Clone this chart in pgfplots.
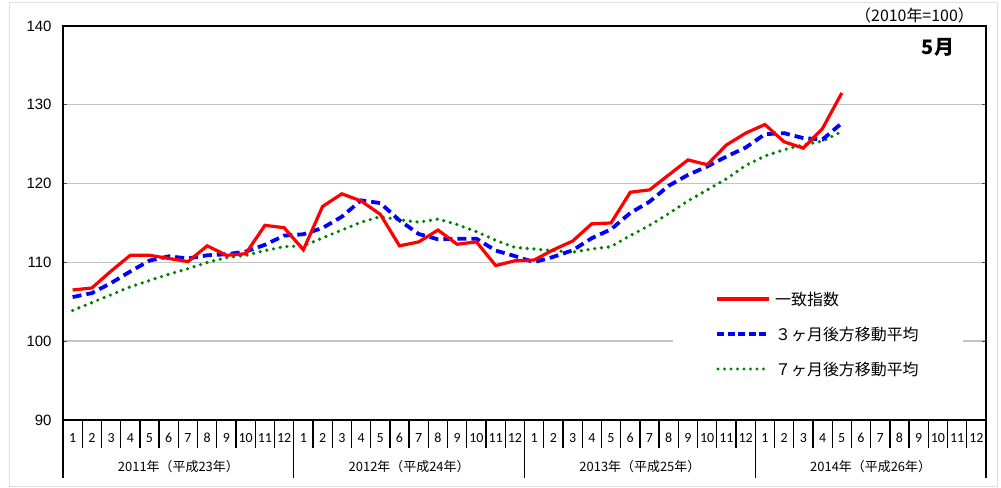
\documentclass[border=0pt]{standalone}
\usepackage{fontspec}
\usepackage{pgfplots}
\usepackage{pgfplotstable}
\pgfplotsset{compat=1.18}
\setmainfont{Carlito}
\newfontfamily\jp{Noto Sans CJK JP}
\newfontfamily\arial{Liberation Sans}
\definecolor{grn}{RGB}{0,128,0}
\definecolor{gridv}{RGB}{215,215,215}
\definecolor{gridh}{RGB}{195,195,195}

\pgfplotstableread{
m idx ma3 ma7
1 106.5 105.6 103.9
2 106.75 106.1 104.9
3 108.9 107.38 105.9
4 110.9 108.85 106.9
5 110.9 110.23 107.7
6 110.5 110.77 108.5
7 110.1 110.5 109.2
8 112.1 110.9 110.0
9 110.9 111.03 110.6
10 111.1 111.37 110.9
11 114.7 112.23 111.5
12 114.4 113.4 112.0
13 111.6 113.57 112.1
14 117.1 114.37 113.1
15 118.7 115.8 114.1
16 117.8 117.87 115.1
17 116.1 117.53 115.8
18 112.1 115.33 115.4
19 112.6 113.6 115.1
20 114.1 112.93 115.5
21 112.3 113.0 114.8
22 112.6 113.0 113.9
23 109.6 111.5 112.8
24 110.2 110.8 111.9
25 110.3 110.03 111.7
26 111.6 110.7 111.5
27 112.7 111.53 111.3
28 114.9 113.07 111.7
29 115.0 114.2 112.0
30 118.9 116.27 113.4
31 119.2 117.7 114.7
32 121.1 119.73 116.2
33 123.0 121.1 117.8
34 122.4 122.17 119.2
35 124.9 123.43 120.6
36 126.4 124.57 122.3
37 127.5 126.27 123.5
38 125.3 126.4 124.3
39 124.5 125.77 124.9
40 127.0 125.6 125.4
41 131.5 127.67 126.6
}\data

\begin{document}
\begin{tikzpicture}[x=1bp,y=1bp]
\useasboundingbox (0,0) rectangle (1001,488);
\fill[white] (0,0) rectangle (1001,488);
\draw[gray!25, line width=1bp] (9,1) rectangle (997,485);
\begin{axis}[
  at={(63bp,68bp)}, anchor=south west,
  scale only axis, width=923bp, height=394bp,
  xmin=0.5, xmax=48.5, ymin=90, ymax=140,
  xtick=\empty,
  minor xtick={1.5,2.5,...,47.5},
  ytick={90,100,...,140},
  ymajorgrids, xminorgrids,
  major grid style={gridh, line width=1.4bp},
  minor grid style={gridv, line width=2bp},
  minor tick length=0pt,
  major tick length=4bp,
  tick align=inside,
  y tick style={black!70, line width=1bp},
  axis line style={black, line width=1.8bp},
  /pgf/number format/assume math mode=true,
  yticklabel style={font=\arial\fontsize{15}{16}\selectfont, xshift=-8bp},
  clip=false,
]
\addplot[grn, line width=3.6bp, line cap=round, dash pattern=on 0bp off 6.8bp] table[x=m, y=ma7] {\data};
\addplot[blue, line width=3.8bp, dash pattern=on 9bp off 5bp] table[x=m, y=ma3] {\data};
\addplot[red, line width=3.2bp] table[x=m, y=idx] {\data};
\end{axis}
% bottom axis thicker
\draw[black, line width=2.8bp] (63,68) -- (986,68);
% month separators
\foreach \k in {1,...,47} {
  \draw[black, line width=1.3bp] ({63+19.229*\k},68) -- ({63+19.229*\k},40);
}
\foreach \k in {0,12,24,36,48} {
  \draw[black, line width=1.3bp] ({63+19.229*\k},68) -- ({63+19.229*\k},10);
}
% month labels
\foreach \y in {0,1,2,3} {
  \foreach \mo in {1,...,12} {
    \node[font=\fontsize{14}{15}\selectfont, inner sep=0pt] at ({63+19.229*(12*\y+\mo-0.5)},50) {\mo};
  }
}
\node[font=\jp\fontsize{13}{14}\selectfont] at ({63+19.229*6},21) {2011年（平成23年）};
\node[font=\jp\fontsize{13}{14}\selectfont] at ({63+19.229*18},21) {2012年（平成24年）};
\node[font=\jp\fontsize{13}{14}\selectfont] at ({63+19.229*30},21) {2013年（平成25年）};
\node[font=\jp\fontsize{13}{14}\selectfont] at ({63+19.229*42},21) {2014年（平成26年）};
% header texts
\node[font=\jp\fontsize{16}{17}\selectfont, anchor=east, inner sep=0pt] at (974,473) {（2010年=100）};
\node[font=\jp\bfseries\fontsize{20}{21}\selectfont, inner sep=0pt] at (938,441) {5月};
% legend
\fill[white] (673,102) rectangle (963,206);
\draw[red, line width=3.2bp] (717,189) -- (769,189);
\draw[blue, line width=3.8bp, dash pattern=on 7bp off 3.5bp] (717,154) -- (769,154);
\draw[grn, line width=3.4bp, line cap=round, dash pattern=on 0bp off 6.5bp] (718,119) -- (769,119);
\node[font=\jp\fontsize{16}{17}\selectfont, anchor=west, inner sep=0pt] at (775,189) {一致指数};
\node[font=\jp\fontsize{16}{17}\selectfont, anchor=west, inner sep=0pt] at (775,154) {３ヶ月後方移動平均};
\node[font=\jp\fontsize{16}{17}\selectfont, anchor=west, inner sep=0pt] at (775,119) {７ヶ月後方移動平均};
\end{tikzpicture}
\end{document}
